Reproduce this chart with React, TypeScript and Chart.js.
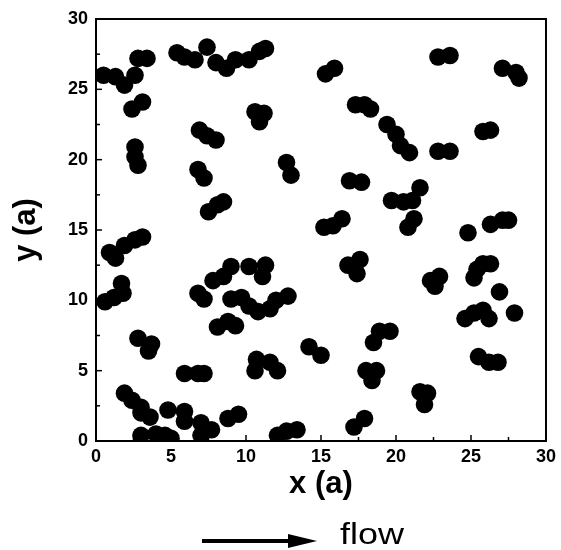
import React, { useEffect, useRef } from "react";
import { Chart, registerables } from "chart.js";

Chart.register(...registerables);

// Particle centres, x (a)
const xValues = [
  0.5, 1.3, 1.9, 2.6, 2.8, 3.4, 5.4, 5.9, 6.6, 7.4, 8.0, 8.7, 9.3, 10.2, 10.9, 11.3,
  15.3, 15.9, 17.3, 17.9, 18.3, 19.4, 20.0, 20.3, 20.9, 22.8, 23.6, 25.8, 26.3,
  22.8, 23.6, 27.1, 28.0, 28.2, 10.6, 11.2, 10.9, 2.4, 3.1, 6.9, 7.4, 8.0,
  2.6, 2.6, 2.8, 6.8, 7.2, 7.5, 8.1, 8.5, 0.9, 1.3, 1.9, 2.6, 3.1, 0.6, 1.2, 1.8, 1.7,
  12.7, 13.0, 16.9, 17.7, 15.2, 15.8, 16.4, 16.8, 17.6, 17.4,
  9.0, 10.2, 11.3, 11.1, 8.5, 6.8, 7.2, 7.8, 9.0, 9.7, 10.2, 10.8, 11.6, 12.0, 12.8,
  19.7, 20.5, 21.1, 21.6, 20.8, 21.2, 24.8, 26.3, 27.1, 27.5, 25.4, 25.8, 26.3, 25.2,
  22.3, 22.9, 22.6, 26.9, 8.1, 8.8, 9.3, 2.8, 3.7, 3.5, 5.9, 6.8, 7.2, 1.9, 2.4,
  3.0, 3.6, 3.0, 4.8, 5.9, 5.9, 7.0, 7.7, 7.0, 8.8, 9.5, 3.0, 4.0, 4.6, 5.0,
  14.2, 15.0, 10.7, 11.6, 12.1, 10.6, 18.5, 18.9, 19.6, 18.0, 18.7, 18.4,
  12.1, 12.7, 13.4, 17.2, 17.9, 24.6, 25.2, 25.8, 26.2, 27.9, 25.5, 26.2, 26.8,
  21.6, 22.1, 21.9,
];

// Particle centres, y (a)
const yValues = [
  26.0, 25.9, 25.3, 26.0, 27.2, 27.2, 27.6, 27.3, 27.1, 28.0, 26.9, 26.5, 27.1, 27.1, 27.7, 27.9,
  26.1, 26.5, 23.9, 23.9, 23.6, 22.5, 21.8, 21.0, 20.5, 20.6, 20.6, 22.0, 22.1,
  27.3, 27.4, 26.5, 26.2, 25.8, 23.4, 23.3, 22.7, 23.6, 24.1, 22.1, 21.7, 21.4,
  20.9, 20.2, 19.6, 19.3, 18.7, 16.3, 16.8, 17.0, 13.4, 13.0, 13.9, 14.3, 14.5, 9.9, 10.2, 10.5, 11.2,
  19.8, 18.9, 18.5, 18.4, 15.2, 15.3, 15.8, 12.5, 12.9, 11.9,
  12.4, 12.4, 12.5, 11.7, 11.7, 10.5, 10.1, 11.4, 10.1, 10.2, 9.6, 9.2, 9.4, 10.0, 10.3,
  17.1, 17.0, 17.1, 18.0, 15.2, 15.8, 14.8, 15.4, 15.7, 15.7, 12.2, 12.6, 12.6, 11.6,
  11.4, 11.7, 11.0, 10.6, 8.1, 8.5, 8.2, 7.3, 6.9, 6.4, 4.8, 4.8, 4.8, 3.4, 2.9,
  2.4, 1.7, 2.0, 2.2, 2.1, 1.4, 1.3, 0.8, 0.4, 1.6, 1.9, 0.4, 0.5, 0.4, 0.2,
  6.7, 6.1, 5.8, 5.6, 5.0, 5.0, 7.0, 7.8, 7.8, 5.0, 5.0, 4.3,
  0.4, 0.7, 0.8, 1.0, 1.6, 8.7, 9.1, 9.3, 8.7, 9.1, 6.0, 5.6, 5.6,
  3.5, 3.4, 2.6,
];

const axisMin = 0;
const axisMax = 30;
const majorStep = 5;
const minorStep = 2.5;
const xTitle = "x (a)";
const yTitle = "y (a)";
const flowLabel = "flow";

const FONT = "'Liberation Sans', Arial, Helvetica, sans-serif";

const framePlugin = {
  id: "frameAndTicks",
  afterDraw(chart: any) {
    const { ctx, chartArea } = chart;
    const xs = chart.scales.x;
    const ys = chart.scales.y;
    ctx.save();
    ctx.strokeStyle = "#000";
    ctx.lineWidth = 2;
    ctx.strokeRect(chartArea.left, chartArea.top, chartArea.right - chartArea.left, chartArea.bottom - chartArea.top);
    ctx.lineWidth = 1.5;
    for (let v = axisMin; v <= axisMax + 1e-9; v += minorStep) {
      const major = Math.abs(v / majorStep - Math.round(v / majorStep)) < 1e-6;
      const len = major ? 6 : 4;
      const px = xs.getPixelForValue(v);
      ctx.beginPath();
      ctx.moveTo(px, chartArea.bottom);
      ctx.lineTo(px, chartArea.bottom - len);
      ctx.stroke();
      const py = ys.getPixelForValue(v);
      ctx.beginPath();
      ctx.moveTo(chartArea.left, py);
      ctx.lineTo(chartArea.left + len, py);
      ctx.stroke();
    }
    // flow arrow
    const ay = 541;
    ctx.fillStyle = "#000";
    ctx.lineWidth = 4;
    ctx.beginPath();
    ctx.moveTo(202, ay);
    ctx.lineTo(292, ay);
    ctx.stroke();
    ctx.beginPath();
    ctx.moveTo(317, ay);
    ctx.lineTo(288, ay - 7);
    ctx.lineTo(288, ay + 7);
    ctx.closePath();
    ctx.fill();
    // flow label
    ctx.save();
    ctx.translate(340, 544);
    ctx.scale(1.2, 1);
    ctx.font = `30px ${FONT}`;
    ctx.textBaseline = "alphabetic";
    ctx.textAlign = "left";
    ctx.fillText(flowLabel, 0, 0);
    ctx.restore();
    ctx.restore();
  },
};

export default function App() {
  const canvasRef = useRef<HTMLCanvasElement | null>(null);

  useEffect(() => {
    const canvas = canvasRef.current;
    if (!canvas) return;
    const points = xValues.map((x, i) => ({ x, y: yValues[i] }));
    const chart = new Chart(canvas, {
      type: "scatter",
      data: {
        datasets: [
          {
            data: points,
            pointRadius: 8.8,
            pointHoverRadius: 8.8,
            pointBackgroundColor: "#000",
            pointBorderWidth: 0,
            borderWidth: 0,
          },
        ],
      },
      options: {
        responsive: false,
        animation: false,
        devicePixelRatio: 1,
        layout: { padding: { top: 19, right: 12, left: 0, bottom: 0 } },
        plugins: { legend: { display: false }, tooltip: { enabled: false } },
        scales: {
          x: {
            type: "linear",
            min: axisMin,
            max: axisMax,
            afterFit: (s: any) => {
              s.height = 109;
            },
            grid: { display: false, drawTicks: false },
            border: { display: false },
            ticks: {
              stepSize: majorStep,
              padding: 5,
              color: "#000",
              font: { family: FONT, size: 18, weight: "bold" },
            },
            title: {
              display: true,
              text: xTitle,
              color: "#000",
              font: { family: FONT, size: 31, weight: "bold" },
              padding: { top: 0, bottom: 47 },
            },
          },
          y: {
            type: "linear",
            min: axisMin,
            max: axisMax,
            afterFit: (s: any) => {
              s.width = 96;
            },
            grid: { display: false, drawTicks: false },
            border: { display: false },
            ticks: {
              stepSize: majorStep,
              padding: 8,
              color: "#000",
              font: { family: FONT, size: 18, weight: "bold" },
            },
            title: {
              display: true,
              text: yTitle,
              color: "#000",
              font: { family: FONT, size: 31, weight: "bold" },
              padding: { top: 8, bottom: 0 },
            },
          },
        },
      },
      plugins: [framePlugin],
    });
    return () => chart.destroy();
  }, []);

  return (
    <div style={{ position: "absolute", left: 0, top: 0, width: 561, height: 550, background: "#fff" }}>
      <canvas ref={canvasRef} width={561} height={550} />
    </div>
  );
}
